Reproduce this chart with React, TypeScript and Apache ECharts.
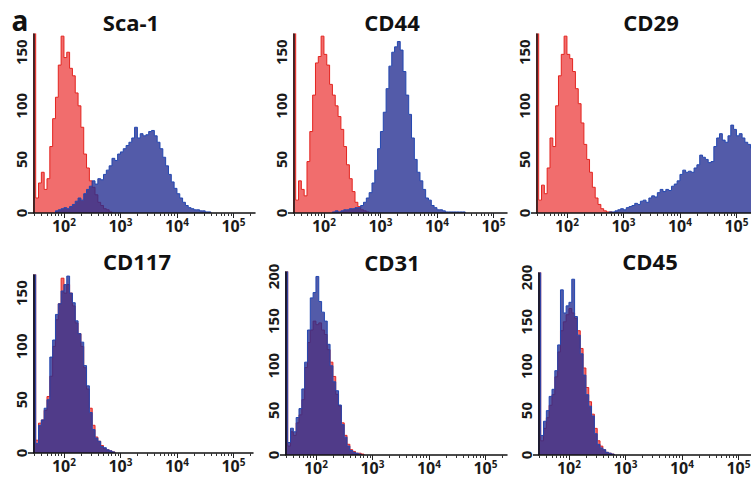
import React, { useEffect, useRef } from "react";
import * as echarts from "echarts";

// ---------------- data ----------------
// Histograms on a log10 fluorescence axis; bin k spans
// [BIN_START + k*BIN_WIDTH, BIN_START + (k+1)*BIN_WIDTH] (decades).
const BIN_START = 1.45;
const BIN_WIDTH = 0.05;

const titles = ["Sca-1", "CD44", "CD29", "CD117", "CD31", "CD45"];
const decadeExponents = [2, 3, 4, 5];
const countTicksLow = [0, 50, 100, 150];
const countTicksHigh = [0, 50, 100, 150, 200];
const countMax = [167, 167, 167, 167, 205, 205];

// isotype control (red) and marker (blue) counts per bin
const sca1Isotype = [400, 14, 28, 38, 22, 32, 62, 88, 108, 138, 165, 145, 150, 135, 128, 112, 100, 80, 55, 42, 30, 24, 17, 10, 7, 4, 3, 1];
const sca1IsotypeFirstBin = 0;
const sca1Marker = [2, 3, 4, 5, 4, 6, 8, 11, 14, 12, 18, 22, 25, 30, 27, 32, 31, 36, 40, 44, 51, 49, 55, 57, 60, 63, 66, 70, 80, 70, 74, 72, 73, 76, 77, 72, 66, 60, 52, 44, 36, 29, 23, 18, 14, 10, 7, 5, 4, 3, 3, 2, 2, 1, 1];
const sca1MarkerFirstBin = 8;

const cd44Isotype = [400, 12, 30, 22, 16, 48, 76, 110, 140, 146, 165, 148, 138, 120, 110, 100, 90, 78, 62, 45, 32, 20, 10, 6, 3, 2, 1];
const cd44IsotypeFirstBin = 0;
const cd44Marker = [1, 2, 1, 2, 3, 3, 4, 4, 5, 5, 7, 10, 14, 19, 28, 40, 60, 76, 94, 116, 137, 150, 155, 160, 152, 132, 110, 92, 70, 50, 38, 30, 22, 14, 12, 7, 5, 3, 3, 2, 1, 1, 1, 1, 1, 1, 1];
const cd44MarkerFirstBin = 14;

const cd29Isotype = [400, 12, 26, 18, 42, 70, 62, 100, 128, 148, 165, 148, 144, 132, 116, 102, 84, 64, 50, 38, 24, 14, 8, 4, 2, 1, 1];
const cd29IsotypeFirstBin = 0;
const cd29Marker = [1, 1, 2, 3, 4, 3, 5, 6, 7, 9, 8, 11, 12, 10, 14, 16, 15, 19, 22, 20, 22, 21, 25, 27, 30, 36, 40, 38, 39, 38, 42, 45, 54, 52, 50, 47, 48, 62, 70, 74, 68, 66, 72, 82, 78, 72, 74, 70, 66, 64, 60, 55, 50];
const cd29MarkerFirstBin = 26;

const cd117Isotype = [400, 12, 28, 31, 40, 53, 72, 100, 125, 140, 164, 150, 158, 150, 138, 122, 112, 100, 80, 60, 42, 26, 15, 11, 7, 4, 3, 2, 1];
const cd117IsotypeFirstBin = 0;
const cd117Marker = [400, 9, 26, 31, 42, 50, 90, 106, 130, 140, 152, 158, 166, 150, 141, 124, 112, 104, 82, 63, 38, 22, 14, 11, 6, 5, 3, 2, 1];
const cd117MarkerFirstBin = 0;

const cd31Isotype = [400, 10, 26, 22, 36, 45, 62, 98, 126, 140, 150, 146, 148, 140, 135, 118, 104, 88, 68, 55, 36, 22, 12, 6, 4, 2, 2, 1];
const cd31IsotypeFirstBin = 0;
const cd31Marker = [400, 14, 30, 26, 42, 52, 74, 104, 140, 176, 182, 200, 172, 160, 150, 124, 100, 82, 72, 56, 34, 20, 10, 5, 3, 2, 1];
const cd31MarkerFirstBin = 0;

const cd45Isotype = [400, 16, 30, 42, 56, 68, 88, 116, 140, 150, 158, 165, 160, 154, 140, 120, 98, 76, 60, 46, 30, 16, 10, 6, 3, 2, 1];
const cd45IsotypeFirstBin = 0;
const cd45Marker = [400, 22, 38, 50, 66, 74, 95, 124, 186, 160, 168, 172, 198, 156, 135, 114, 90, 68, 55, 44, 24, 12, 8, 6, 3, 2, 1];
const cd45MarkerFirstBin = 0;

const isotypes = [
  [sca1Isotype, sca1IsotypeFirstBin],
  [cd44Isotype, cd44IsotypeFirstBin],
  [cd29Isotype, cd29IsotypeFirstBin],
  [cd117Isotype, cd117IsotypeFirstBin],
  [cd31Isotype, cd31IsotypeFirstBin],
  [cd45Isotype, cd45IsotypeFirstBin],
] as [number[], number][];
const markers = [
  [sca1Marker, sca1MarkerFirstBin],
  [cd44Marker, cd44MarkerFirstBin],
  [cd29Marker, cd29MarkerFirstBin],
  [cd117Marker, cd117MarkerFirstBin],
  [cd31Marker, cd31MarkerFirstBin],
  [cd45Marker, cd45MarkerFirstBin],
] as [number[], number][];

// ---------------- layout ----------------
const MIN_EXP = 1.47;
const PX_PER_DECADE = 56.5;
const panelBoxes = [
  { left: 34, top: 34, width: 221, height: 179 },
  { left: 294, top: 34, width: 213, height: 179 },
  { left: 537, top: 34, width: 224, height: 179 },
  { left: 34, top: 275, width: 219, height: 178 },
  { left: 286, top: 272, width: 221, height: 183 },
  { left: 539, top: 273, width: 224, height: 182 },
];
const titlePos = [
  [131, 22], [392, 22], [651, 22],
  [137, 261], [392, 262], [650, 261],
];

const FONT = "'Open Sans', 'Noto Sans', sans-serif";
const RED_LINE = "#e3241f";
const RED_FILL = "rgba(235, 40, 40, 0.68)";
const BLUE_LINE = "#2347b0";
const BLUE_FILL = "rgba(35, 45, 145, 0.78)";

const r3 = (v: number) => Math.round(v * 1000) / 1000;

function histogramPoints(counts: number[], firstBin: number) {
  const pts: number[][] = [];
  const x0 = r3(BIN_START + firstBin * BIN_WIDTH);
  pts.push([x0, 0]);
  counts.forEach((c, k) => {
    pts.push([r3(BIN_START + (firstBin + k) * BIN_WIDTH), c]);
  });
  pts.push([r3(BIN_START + (firstBin + counts.length) * BIN_WIDTH), 0]);
  return pts;
}

function minorExponents(max: number) {
  const out: number[] = [];
  for (let d = 1; d <= 5; d++) {
    for (let k = 2; k <= 9; k++) {
      const e = r3(Math.log10(k) + d);
      if (e >= MIN_EXP && e <= max) out.push(e);
    }
  }
  return out;
}

function buildOption() {
  const grid: any[] = [];
  const xAxis: any[] = [];
  const yAxis: any[] = [];
  const series: any[] = [];
  const graphic: any[] = [];

  panelBoxes.forEach((b, p) => {
    const maxExp = MIN_EXP + b.width / PX_PER_DECADE;
    grid.push({ left: b.left, top: b.top, width: b.width, height: b.height, containLabel: false, outerBoundsMode: "none" });
    xAxis.push({
      type: "value",
      gridIndex: p,
      position: "bottom",
      min: MIN_EXP,
      max: maxExp,
      z: 5,
      axisLine: { show: true, onZero: false, lineStyle: { color: "#111", width: 1.5 } },
      axisTick: { show: true, length: 5, customValues: decadeExponents, lineStyle: { color: "#222", width: 1 } },
      splitLine: { show: false },
      axisLabel: {
        show: true,
        customValues: decadeExponents,
        margin: 4,
        formatter: (v: number) => `{b|10}{s|${Math.round(v)}}`,
        rich: {
          b: { fontFamily: FONT, fontWeight: "bold", fontSize: 16, color: "#1a1a1a" },
          s: { fontFamily: FONT, fontWeight: "bold", fontSize: 10, color: "#1a1a1a", padding: [0, 0, 8, 0] },
        },
      },
    });
    xAxis.push({
      type: "value",
      gridIndex: p,
      position: "bottom",
      offset: 0,
      min: MIN_EXP,
      max: maxExp,
      z: 5,
      axisLine: { show: false, onZero: false },
      axisTick: { show: true, length: 3, customValues: minorExponents(maxExp), lineStyle: { color: "#333", width: 1 } },
      splitLine: { show: false },
      axisLabel: { show: false },
    });
    const ticks = countMax[p] > 180 ? countTicksHigh : countTicksLow;
    yAxis.push({
      type: "value",
      gridIndex: p,
      position: "left",
      min: 0,
      max: countMax[p],
      z: 5,
      axisLine: { show: true, onZero: false, lineStyle: { color: "#111", width: 1.5 } },
      axisTick: { show: true, length: 6, customValues: [0], lineStyle: { color: "#111", width: 1.5 } },
      splitLine: { show: false },
      axisLabel: {
        show: true,
        customValues: ticks,
        rotate: 90,
        margin: 6,
        fontFamily: FONT,
        fontWeight: "bold",
        fontSize: 15,
        color: "#1a1a1a",
      },
    });

    const [iso, isoStart] = isotypes[p];
    const [mk, mkStart] = markers[p];
    series.push({
      type: "line",
      name: titles[p] + " isotype",
      xAxisIndex: 2 * p,
      yAxisIndex: p,
      step: "end",
      symbol: "none",
      clip: true,
      data: histogramPoints(iso, isoStart),
      lineStyle: { color: RED_LINE, width: 1 },
      areaStyle: { color: RED_FILL, opacity: 1 },
      z: 2,
    });
    series.push({
      type: "line",
      name: titles[p],
      xAxisIndex: 2 * p,
      yAxisIndex: p,
      step: "end",
      symbol: "none",
      clip: true,
      data: histogramPoints(mk, mkStart),
      lineStyle: { color: BLUE_LINE, width: 1 },
      areaStyle: { color: BLUE_FILL, opacity: 1 },
      z: 3,
    });

    graphic.push({
      type: "text",
      x: titlePos[p][0],
      y: titlePos[p][1],
      style: {
        text: titles[p],
        fontFamily: FONT,
        fontWeight: "bold",
        fontSize: 22,
        fill: "#111",
        textAlign: "center",
        textVerticalAlign: "middle",
      },
    });
  });

  graphic.push({
    type: "text",
    x: 20,
    y: 20,
    style: {
      text: "a",
      fontFamily: FONT,
      fontWeight: "bold",
      fontSize: 28,
      fill: "#111",
      textAlign: "center",
      textVerticalAlign: "middle",
    },
  });

  return {
    animation: false,
    backgroundColor: "#ffffff",
    grid,
    xAxis,
    yAxis,
    series,
    graphic,
  };
}

export default function App() {
  const ref = useRef<HTMLDivElement>(null);
  useEffect(() => {
    if (!ref.current) return;
    const chart = echarts.init(ref.current, undefined, { renderer: "svg" });
    chart.setOption(buildOption() as any);
    return () => chart.dispose();
  }, []);
  return (
    <div
      ref={ref}
      style={{ position: "fixed", left: 0, top: 0, width: 751, height: 484, background: "#fff" }}
    />
  );
}
